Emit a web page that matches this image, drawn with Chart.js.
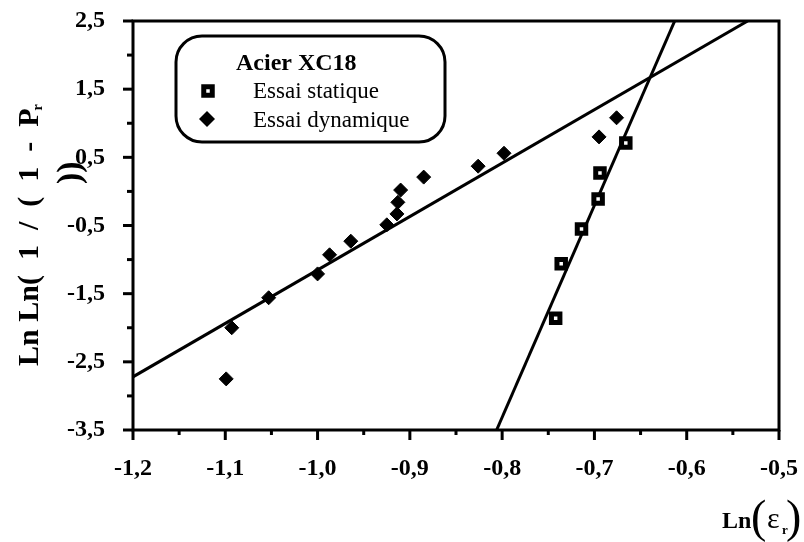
<!DOCTYPE html>
<html>
<head>
<meta charset="utf-8">
<script src="https://cdn.jsdelivr.net/npm/chart.js@4.4.1/dist/chart.umd.min.js"></script>
<style>
  body { margin: 0; background: #fff; }
  #wrap { width: 804px; height: 542px; }
</style>
</head>
<body>
<div id="wrap"><canvas id="myChart" width="804" height="542"></canvas></div>
<script>
// essai statique (squares)
const staticX = [-0.742, -0.736, -0.714, -0.696, -0.694, -0.666];
const staticY = [-1.86, -1.06, -0.55, -0.11, 0.27, 0.71];

// essai dynamique (diamonds)
const dynX = [-1.099, -1.093, -1.053, -1.0, -0.987, -0.964, -0.925, -0.914, -0.913, -0.910, -0.885, -0.826, -0.798, -0.695, -0.676];
const dynY = [-2.75, -2.0, -1.56, -1.21, -0.93, -0.73, -0.49, -0.33, -0.16, 0.02, 0.21, 0.37, 0.56, 0.8, 1.08];

// fitted lines (end points)
const fitStaticX = [-0.806, -0.613];
const fitStaticY = [-3.5, 2.5];
const fitDynX = [-1.2, -0.534];
const fitDynY = [-2.72, 2.5];

const xMin = -1.2, xMax = -0.5, xStep = 0.05;
const yMin = -3.5, yMax = 2.5, yStep = 0.5;

const legendTitle = "Acier XC18";
const legendLabels = ["Essai statique", "Essai dynamique"];

function toPoints(xs, ys) {
  return xs.map((x, i) => ({ x: x, y: ys[i] }));
}

function isXMajor(v) {
  return Math.abs(Math.round(v * 20)) % 2 === 0;
}

function isYMajor(v) {
  return Math.abs(Math.round(v * 2)) % 2 === 1;
}

function fmt(v) {
  return v.toFixed(1).replace(".", ",");
}

const serif = "'Liberation Serif', 'Times New Roman', serif";

const decorPlugin = {
  id: "decor",
  afterDraw(chart) {
    const ctx = chart.ctx;
    const a = chart.chartArea;
    const xs = chart.scales.x;
    const ys = chart.scales.y;
    ctx.save();
    ctx.strokeStyle = "#000";
    ctx.fillStyle = "#000";

    // frame
    ctx.lineWidth = 3;
    ctx.strokeRect(a.left, a.top, a.right - a.left, a.bottom - a.top);

    // ticks
    ctx.lineWidth = 3;
    xs.ticks.forEach((t) => {
      let px = xs.getPixelForValue(t.value);
      let len = isXMajor(t.value) ? 10 : 5;
      ctx.beginPath();
      ctx.moveTo(px, a.bottom);
      ctx.lineTo(px, a.bottom + len);
      ctx.stroke();
    });
    ys.ticks.forEach((t) => {
      let py = ys.getPixelForValue(t.value);
      let len = isYMajor(t.value) ? 10 : 6;
      ctx.beginPath();
      ctx.moveTo(a.left, py);
      ctx.lineTo(a.left - len, py);
      ctx.stroke();
    });

    // legend box
    ctx.lineWidth = 3;
    ctx.fillStyle = "#fff";
    ctx.beginPath();
    ctx.roundRect(176, 36, 269, 106, 26);
    ctx.fill();
    ctx.stroke();
    ctx.fillStyle = "#000";
    ctx.textBaseline = "alphabetic";
    ctx.textAlign = "left";
    ctx.font = "bold 24px " + serif;
    ctx.fillText(legendTitle, 236, 70);
    ctx.font = "23px " + serif;
    ctx.fillText(legendLabels[0], 253, 98);
    ctx.fillText(legendLabels[1], 253, 127);
    const d0 = chart.data.datasets[0];
    ctx.fillStyle = "#fff";
    ctx.lineWidth = d0.borderWidth;
    ctx.beginPath();
    ctx.rect(208 - 4.25, 91 - 4.25, 8.5, 8.5);
    ctx.fill();
    ctx.stroke();
    ctx.fillStyle = "#000";
    ctx.beginPath();
    ctx.moveTo(207, 119 - 8);
    ctx.lineTo(207 + 8, 119);
    ctx.lineTo(207, 119 + 8);
    ctx.lineTo(207 - 8, 119);
    ctx.closePath();
    ctx.fill();

    // y title
    const yTitle = "Ln Ln(  1  /  (  1  -  P";
    ctx.save();
    ctx.translate(30, 366);
    ctx.rotate(-Math.PI / 2);
    ctx.font = "bold 30px " + serif;
    ctx.textBaseline = "middle";
    ctx.fillText(yTitle, 0, 0);
    let w = ctx.measureText(yTitle).width;
    ctx.font = "bold 14px " + serif;
    ctx.fillText("r", w - 2, 8);
    ctx.restore();

    ctx.save();
    ctx.translate(71, 184);
    ctx.rotate(-Math.PI / 2);
    ctx.font = "bold 34px " + serif;
    ctx.textBaseline = "middle";
    ctx.fillText("))", 0, 0);
    ctx.restore();

    // x title
    ctx.textBaseline = "alphabetic";
    ctx.font = "bold 24px " + serif;
    ctx.fillText("Ln", 722, 528);
    ctx.font = "46px " + serif;
    ctx.fillText("(", 751, 532);
    ctx.fillText(")", 786, 532);
    ctx.font = "30px " + serif;
    ctx.fillText("ε", 767, 528);
    ctx.font = "bold 13px " + serif;
    ctx.fillText("r", 782, 534);
    ctx.restore();
  },
};

new Chart("myChart", {
  type: "scatter",
  data: {
    datasets: [
      {
        label: legendLabels[0],
        data: toPoints(staticX, staticY),
        pointStyle: "rect",
        pointRadius: 6,
        pointHoverRadius: 6,
        borderWidth: 5,
        borderColor: "#000",
        backgroundColor: "#fff",
      },
      {
        label: legendLabels[1],
        data: toPoints(dynX, dynY),
        pointStyle: "rectRot",
        pointRadius: 7,
        pointHoverRadius: 7,
        borderWidth: 1,
        borderColor: "#000",
        backgroundColor: "#000",
      },
      {
        type: "line",
        data: toPoints(fitStaticX, fitStaticY),
        showLine: true,
        pointRadius: 0,
        borderWidth: 3,
        borderColor: "#000",
        fill: false,
      },
      {
        type: "line",
        data: toPoints(fitDynX, fitDynY),
        showLine: true,
        pointRadius: 0,
        borderWidth: 3,
        borderColor: "#000",
        fill: false,
      },
    ],
  },
  options: {
    responsive: false,
    animation: false,
    layout: { padding: { top: 21, right: 25, left: 0, bottom: 0 } },
    plugins: {
      legend: { display: false },
      tooltip: { enabled: false },
    },
    scales: {
      x: {
        type: "linear",
        min: xMin,
        max: xMax,
        grid: { drawOnChartArea: false, drawTicks: false },
        border: { display: false },
        afterFit: (s) => {
          s.height = 112;
          s.paddingLeft = 0;
          s.paddingRight = 0;
        },
        ticks: {
          stepSize: xStep,
          autoSkip: false,
          maxRotation: 0,
          padding: 24,
          color: "#000",
          font: { family: serif, size: 24, weight: "bold" },
          callback: (v) => (isXMajor(v) ? fmt(v) : ""),
        },
      },
      y: {
        min: yMin,
        max: yMax,
        grid: { drawOnChartArea: false, drawTicks: false },
        border: { display: false },
        afterFit: (s) => {
          s.width = 133;
          s.paddingTop = 0;
          s.paddingBottom = 0;
        },
        ticks: {
          stepSize: yStep,
          autoSkip: false,
          padding: 28,
          color: "#000",
          font: { family: serif, size: 24, weight: "bold" },
          callback: (v) => (isYMajor(v) ? fmt(v) : ""),
        },
      },
    },
  },
  plugins: [decorPlugin],
});
</script>
</body>
</html>
